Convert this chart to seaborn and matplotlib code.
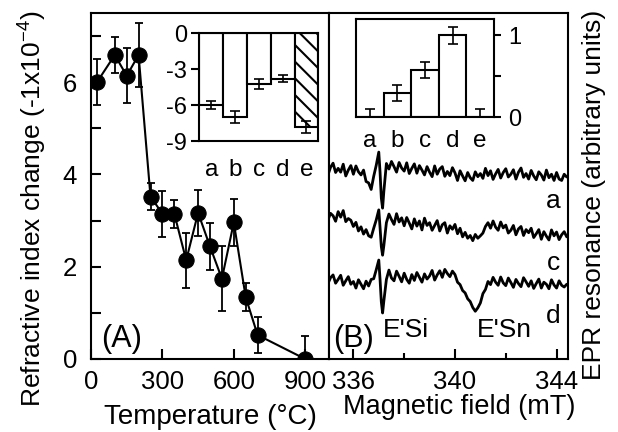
import matplotlib
matplotlib.use('Agg')
import matplotlib.pyplot as plt
from matplotlib.ticker import MultipleLocator
import seaborn as sns

# (A) refractive index change vs annealing temperature
temps = [25, 100, 150, 200, 250, 300, 350, 400, 450, 500, 550, 600, 650, 700, 900]
dn = [6.0, 6.59, 6.14, 6.59, 3.52, 3.15, 3.15, 2.14, 3.17, 2.44, 1.74, 2.96, 1.34, 0.52, 0.0]
dn_err = [0.5, 0.4, 0.6, 0.7, 0.3, 0.5, 0.3, 0.6, 0.5, 0.5, 0.7, 0.5, 0.3, 0.4, 0.5]

# insets: samples a-e
samples = ['a', 'b', 'c', 'd', 'e']
inset_dn = [-6.0, -7.0, -4.25, -3.8, -7.8]
inset_dn_err = [0.35, 0.5, 0.4, 0.3, 0.5]
epr_int = [0.0, 0.3, 0.575, 1.0, 0.0]
epr_int_err = [0.1, 0.1, 0.1, 0.1, 0.1]

# (B) EPR spectra (arbitrary units)
field = [335.0, 335.1, 335.2, 335.3, 335.4, 335.5, 335.6, 335.7, 335.8, 335.9,
         336.0, 336.1, 336.2, 336.3, 336.4, 336.5, 336.6, 336.7, 336.8, 336.9,
         337.0, 337.05, 337.1, 337.15, 337.2, 337.3, 337.4, 337.5, 337.6, 337.7, 337.8, 337.9,
         338.0, 338.1, 338.2, 338.3, 338.4, 338.5, 338.6, 338.7, 338.8, 338.9,
         339.0, 339.1, 339.2, 339.3, 339.4, 339.5, 339.6, 339.7, 339.8, 339.9,
         340.0, 340.1, 340.2, 340.3, 340.4, 340.5, 340.6, 340.7, 340.8, 340.9,
         341.0, 341.1, 341.2, 341.3, 341.4, 341.5, 341.6, 341.7, 341.8, 341.9,
         342.0, 342.1, 342.2, 342.3, 342.4, 342.5, 342.6, 342.7, 342.8, 342.9,
         343.0, 343.1, 343.2, 343.3, 343.4, 343.5, 343.6, 343.7, 343.8, 343.9,
         344.0, 344.1, 344.2, 344.3, 344.4]
trace_a = [53.2, 55.4, 56.6, 53.9, 55.1, 54.0, 56.3, 52.9, 54.6, 55.9,
           53.4, 55.8, 54.1, 53.2, 54.6, 51.3, 50.9, 49.0, 52.8, 56.0,
           59.8, 54.0, 46.5, 43.6, 48.5, 56.5, 54.9, 57.1, 55.6, 54.0, 56.8, 55.2,
           54.3, 56.7, 53.6, 55.1, 56.4, 53.7, 55.9, 54.6, 53.2, 55.6,
           54.0, 52.7, 55.8, 53.4, 54.9, 55.6, 52.8, 54.2, 53.0, 55.3,
           53.8, 51.6, 54.4, 52.9, 51.5, 53.9, 52.4, 51.6, 54.1, 52.7,
           53.6, 52.2, 55.1, 53.0, 54.4, 51.9, 53.5, 54.8, 52.3, 53.9,
           55.0, 52.6, 53.4, 54.7, 52.0, 54.0, 55.2, 52.5, 53.6, 52.0,
           54.5, 52.9, 51.8, 54.1, 53.2, 51.7, 54.6, 52.4, 53.4, 51.6,
           53.9, 52.0, 51.6, 53.4, 52.6]
trace_c = [40.2, 42.1, 41.4, 39.8, 42.6, 41.0, 42.9, 39.7, 40.6, 40.1,
           38.3, 39.5, 37.0, 38.2, 36.1, 37.4, 35.6, 35.2, 37.8, 40.2,
           43.1, 38.0, 32.5, 30.0, 32.8, 39.4, 41.9, 40.3, 38.9, 42.0, 39.6, 40.8,
           38.5, 40.9, 39.3, 37.6, 40.5, 38.4, 39.9, 37.3, 40.7, 38.6,
           39.4, 37.2, 38.6, 40.0, 37.0, 38.8, 39.4, 36.4, 38.5, 37.5,
           38.9, 36.2, 37.8, 35.3, 36.6, 34.9, 35.7, 34.2, 36.0, 34.9,
           35.6, 36.4, 38.3, 39.4, 37.8, 39.9, 38.1, 37.2, 39.6, 37.9,
           38.7, 36.4, 37.2, 38.6, 35.9, 37.6, 38.3, 35.7, 37.4, 36.5,
           37.8, 35.1, 36.2, 37.4, 34.6, 36.8, 35.5, 34.4, 37.3, 35.6,
           36.7, 34.5, 35.9, 36.8, 35.3]
trace_d = [21.8, 23.5, 24.3, 21.9, 23.0, 24.2, 21.3, 22.6, 23.8, 21.6,
           22.4, 20.5, 22.9, 21.6, 20.3, 22.5, 21.1, 23.0, 23.2, 25.8,
           28.6, 23.0, 16.5, 13.3, 16.8, 23.0, 25.7, 23.4, 22.6, 25.4, 23.9, 22.3,
           24.8, 23.0, 21.9, 24.4, 22.7, 25.0, 23.6, 22.2, 24.6, 23.1,
           24.0, 25.6, 22.8, 24.3, 25.5, 23.6, 25.9, 24.7, 23.8, 25.4,
           24.4, 22.2, 21.5, 19.8, 19.1, 17.4, 16.6, 14.9, 13.8, 14.8,
           16.2, 18.9, 20.1, 22.4, 21.5, 23.6, 22.2, 21.3, 23.7, 22.0,
           21.2, 23.4, 22.1, 20.7, 23.0, 21.8, 20.9, 23.5, 22.3, 21.0,
           22.6, 20.4, 21.8, 23.1, 20.5, 22.2, 21.6, 20.3, 22.9, 21.4,
           20.5, 22.6, 21.3, 20.8, 21.6]

sns.set_style('ticks', rc={'axes.edgecolor': 'black', 'xtick.color': 'black',
                           'ytick.color': 'black', 'text.color': 'black',
                           'axes.labelcolor': 'black'})
plt.rcParams['font.family'] = ['Liberation Sans', 'DejaVu Sans']
plt.rcParams['mathtext.fontset'] = 'custom'
plt.rcParams['mathtext.rm'] = 'Liberation Sans'
plt.rcParams['mathtext.default'] = 'regular'
plt.rcParams['axes.unicode_minus'] = False
plt.rcParams['axes.linewidth'] = 1.5
plt.rcParams['hatch.linewidth'] = 1.5

W, H = 618, 432
fig = plt.figure(figsize=(W / 100, H / 100), dpi=100)

# ---- panel A ----
ax1 = fig.add_axes([91 / W, 1 - 359 / H, 238 / W, 346 / H])
ax1.errorbar(temps, dn, yerr=dn_err, fmt='none', ecolor='black', elinewidth=1.3,
             capsize=3, capthick=1.3, zorder=2)
sns.lineplot(x=temps, y=dn, color='black', lw=1.5, marker='o', markersize=11,
             markeredgecolor='black', estimator=None, ax=ax1, zorder=3)
ax1.set_xlim(0, 1000)
ax1.set_ylim(0, 7.5)
ax1.set_xticks([0, 300, 600, 900])
ax1.yaxis.set_major_locator(MultipleLocator(2))
ax1.yaxis.set_minor_locator(MultipleLocator(1))
ax1.tick_params(which='both', direction='in', length=7, width=1.5, labelsize=18.5)
ax1.tick_params(axis='x', pad=8)
ax1.tick_params(axis='y', pad=10)
ax1.set_xlabel('Temperature (°C)', fontsize=20, labelpad=7)
ax1.text(41, 0.27, '(A)', fontsize=22, ha='left', va='baseline')

# ---- panel B ----
ax2 = fig.add_axes([329 / W, 1 - 359 / H, 239 / W, 346 / H])
for tr in (trace_a, trace_c, trace_d):
    sns.lineplot(x=field, y=tr, color='black', lw=2.0, estimator=None, ax=ax2)
ax2.set_xlim(335.04, 344.45)
ax2.set_ylim(0, 100)
ax2.set_yticks([])
ax2.set_xticks([336, 340, 344])
ax2.xaxis.set_minor_locator(MultipleLocator(2))
ax2.tick_params(axis='x', which='major', direction='in', length=7, width=1.5,
                labelsize=18.5, pad=8)
ax2.tick_params(axis='x', which='minor', direction='in', length=4, width=1.5)
ax2.set_xlabel('Magnetic field (mT)', fontsize=19.5)
ax2.xaxis.set_label_coords(0.545, -0.1)
ax2.text(344.15, 43.5, 'a', fontsize=19, ha='right', va='baseline')
ax2.text(344.15, 25.7, 'c', fontsize=19, ha='right', va='baseline')
ax2.text(344.15, 10.3, 'd', fontsize=19, ha='right', va='baseline')
ax2.text(337.18, 6.4, "E'Si", fontsize=19, ha='left', va='baseline')
ax2.text(340.86, 6.4, "E'Sn", fontsize=19, ha='left', va='baseline')
ax2.text(335.21, 3.5, '(B)', fontsize=22, ha='left', va='baseline')

fig.text(33 / W, 25 / H, 'Refractive index change (-1x10$^{-4}$)', fontsize=19,
         rotation=90, ha='center', va='bottom')
fig.text(594 / W, 52 / H, 'EPR resonance (arbitrary units)', fontsize=19,
         rotation=90, ha='center', va='bottom')

# ---- inset A ----
ax3 = fig.add_axes([199.3 / W, 1 - 141 / H, 119 / W, 107.7 / H])
sns.barplot(x=samples, y=inset_dn, color='white', edgecolor='black', linewidth=1.5,
            width=1.0, saturation=1, ax=ax3)
ax3.patches[4].set_hatch('\\\\')
ax3.errorbar(range(5), inset_dn, yerr=inset_dn_err, fmt='none', ecolor='black',
             elinewidth=1.2, capsize=3.5, capthick=1.2)
ax3.set_xlim(-0.5, 4.5)
ax3.set_ylim(-9, 0)
ax3.set_yticks([0, -3, -6, -9])
ax3.tick_params(axis='y', direction='out', length=6, width=1.5, labelsize=17, pad=3)
ax3.tick_params(axis='x', length=0, labelsize=17.5, pad=13)
ax3.set_xlabel('')
ax3.set_ylabel('')

# ---- inset B ----
ax4 = fig.add_axes([356 / W, 1 - 117.3 / H, 138 / W, 98.3 / H])
sns.barplot(x=samples, y=epr_int, color='white', edgecolor='black', linewidth=1.5,
            width=1.0, saturation=1, ax=ax4)
ax4.errorbar(range(5), epr_int, yerr=epr_int_err, fmt='none', ecolor='black',
             elinewidth=1.2, capsize=3.5, capthick=1.2)
ax4.set_xlim(-0.5, 4.5)
ax4.set_ylim(0, 1.2)
ax4.yaxis.tick_right()
ax4.set_yticks([0, 1])
ax4.yaxis.set_minor_locator(MultipleLocator(0.5))
ax4.tick_params(axis='y', which='both', direction='out', length=5, width=1.5,
                labelsize=17, pad=5)
ax4.tick_params(axis='x', length=0, labelsize=17.5, pad=9)
ax4.set_xlabel('')
ax4.set_ylabel('')

fig.savefig('out.png', dpi=100)
